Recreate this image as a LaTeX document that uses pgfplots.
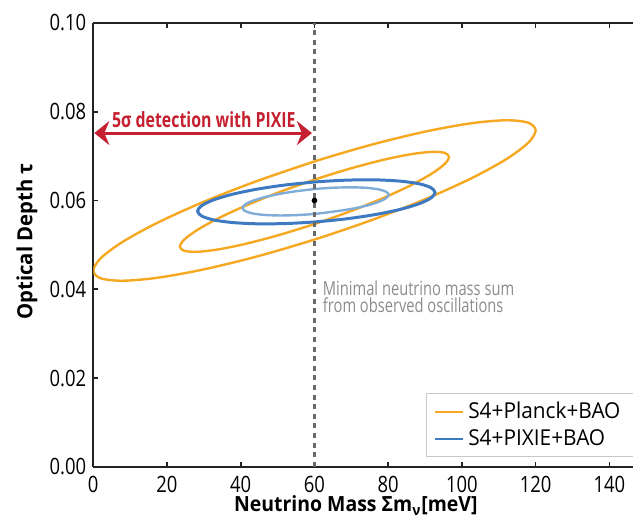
\documentclass[border=0pt]{standalone}
\usepackage{fontspec}
\setmainfont{Open Sans}[FakeStretch=0.76]
\newfontfamily\tickfont{Open Sans}[FakeStretch=0.82]
\newfontfamily\xlabfont{Open Sans}[FakeStretch=0.93]
\newfontfamily\ylabfont{Open Sans}[FakeStretch=0.97]
\newfontfamily\legfont{Open Sans}[FakeStretch=0.95]
\usepackage{pgfplots}
\pgfplotsset{compat=1.18}
\usetikzlibrary{calc,arrows.meta}

\definecolor{cOrange}{RGB}{246,168,33}
\definecolor{cBlue}{RGB}{62,122,194}
\definecolor{cLightBlue}{RGB}{128,172,216}
\definecolor{cRed}{RGB}{196,32,48}
\definecolor{cDash}{RGB}{105,105,105}
\definecolor{cNote}{RGB}{140,140,140}
\definecolor{axisgray}{RGB}{35,35,35}
\definecolor{legendgray}{RGB}{200,200,200}

\begin{document}
\begin{tikzpicture}
\begin{axis}[
  name=ax,
  scale only axis, width=270bp, height=222bp,
  xmin=0, xmax=146.4, ymin=0, ymax=0.10,
  axis x line*=box, axis y line*=left,
  axis line style={line width=1.2bp, color=axisgray},
  xtick={0,20,40,60,80,100,120,140},
  ytick={0,0.02,0.04,0.06,0.08,0.10},
  scaled y ticks=false,
  yticklabel style={/pgf/number format/fixed, /pgf/number format/fixed zerofill, /pgf/number format/precision=2},
  /pgf/number format/assume math mode=true,
  tick label style={font=\tickfont\fontsize{11.3}{11.3}\selectfont, color=black},
  xticklabel style={inner sep=1bp, yshift=-3.4bp},
  tick align=inside, major tick length=2.5bp,
  tick style={line width=0.8bp, color=axisgray},
  xlabel={\textbf{Neutrino Mass Σm\textsubscript{ν}[meV]}},
  xlabel style={at={(axis description cs:0.4865,-0.1014)}, anchor=base, inner sep=0pt, font=\xlabfont\fontsize{10.5}{10.5}\selectfont},
  ylabel={\textbf{Optical Depth τ}},
  ylabel style={at={(axis description cs:-0.1228,0.508)}, anchor=center, font=\ylabfont\fontsize{10.5}{10.5}\selectfont},
  no markers,
  legend style={at={(0.616,0.0225)}, anchor=south west, draw=legendgray, line width=0.6bp,
    font=\legfont\fontsize{11}{12}\selectfont, inner xsep=4bp, inner ysep=2bp, cells={anchor=west}},
  legend image code/.code={\draw[#1, line width=1bp] (0bp,0bp) -- (14bp,0bp);},
]

% S4+Planck+BAO, outer contour
\addplot[cOrange, line width=1.2bp, smooth] coordinates {
 (60,0.0688) (44.47,0.06441) (30,0.05972) (17.57,0.05505) (8.04,0.05072) (2.05,0.04702)
 (0,0.0442) (2.05,0.04246) (8.04,0.04192) (17.57,0.04261) (30,0.04448) (44.47,0.04741)
 (60,0.0512) (75.53,0.05559) (90,0.06028) (102.43,0.06495) (111.96,0.06928) (117.95,0.07298)
 (120,0.0758) (117.95,0.07754) (111.96,0.07808) (102.43,0.07739) (90,0.07552) (75.53,0.07259)
 (60,0.0688) (44.47,0.06441)};
\addlegendentry{S4+Planck+BAO\hspace*{40bp}}

% S4+Planck+BAO, inner contour
\addplot[cOrange, line width=1.2bp, smooth, forget plot] coordinates {
 (60,0.0647) (50.55,0.06192) (41.75,0.05898) (34.19,0.0561) (28.39,0.05345) (24.74,0.05123)
 (23.5,0.0496) (24.74,0.04865) (28.39,0.04845) (34.19,0.04902) (41.75,0.05032) (50.55,0.05226)
 (60,0.0547) (69.45,0.05748) (78.25,0.06042) (85.81,0.0633) (91.61,0.06595) (95.26,0.06817)
 (96.5,0.0698) (95.26,0.07075) (91.61,0.07095) (85.81,0.07038) (78.25,0.06908) (69.45,0.06714)
 (60,0.0647) (50.55,0.06192)};

% S4+PIXIE+BAO, outer contour
\addplot[cBlue, line width=1.5bp, smooth] coordinates {
 (60.5,0.0642) (52.17,0.06351) (44.4,0.06255) (37.73,0.0614) (32.61,0.06013) (29.4,0.05883)
 (28.3,0.0576) (29.4,0.05651) (32.61,0.05563) (37.73,0.05504) (44.4,0.05475) (52.17,0.05481)
 (60.5,0.0552) (68.83,0.05589) (76.6,0.05685) (83.27,0.058) (88.39,0.05927) (91.6,0.06057)
 (92.7,0.0618) (91.6,0.06289) (88.39,0.06377) (83.27,0.06436) (76.6,0.06465) (68.83,0.06459)
 (60.5,0.0642) (52.17,0.06351)};
\addlegendentry{S4+PIXIE+BAO}

% S4+PIXIE+BAO, inner contour
\addplot[cLightBlue, line width=1.2bp, smooth, forget plot] coordinates {
 (60.3,0.0626) (55.18,0.06211) (50.4,0.06147) (46.3,0.06072) (43.15,0.0599) (41.17,0.05907)
 (40.5,0.0583) (41.17,0.05763) (43.15,0.0571) (46.3,0.05676) (50.4,0.05663) (55.18,0.05671)
 (60.3,0.057) (65.42,0.05753) (70.2,0.05813) (74.3,0.05888) (77.45,0.0597) (79.43,0.06053)
 (80.1,0.0613) (79.43,0.06197) (77.45,0.0625) (74.3,0.06284) (70.2,0.06297) (65.42,0.06289)
 (60.3,0.0626) (55.18,0.06211)};

% minimal mass sum from oscillations
\addplot[cDash, line width=1.2bp, dash pattern=on 2.5bp off 2.3bp, forget plot] coordinates {(60,0) (60,0.1)};

% fiducial point
\addplot[only marks, mark=*, mark size=1.2bp, black, forget plot] coordinates {(60,0.0600)};

% detection range
\addplot[cRed, line width=1.5bp, {Stealth[length=7.5bp,width=12bp,inset=2.5bp]}-{Stealth[length=7.5bp,width=12bp,inset=2.5bp]}, forget plot]
  coordinates {(0.3,0.0752) (59.3,0.0752)};
\node[cRed, font=\bfseries\fontsize{10.5}{12}\selectfont] at (axis cs:30,0.0783) {5σ detection with PIXIE};

\node[cNote, anchor=north west, inner sep=0pt, align=left, font=\fontsize{9.7}{8.8}\selectfont]
  at (axis cs:62.2,0.0420) {Minimal neutrino mass sum\\from observed oscillations};
\end{axis}
\pgfresetboundingbox
\path[use as bounding box] ($(ax.south west)+(-46.65bp,-26.5bp)$) rectangle ($(ax.north east)+(0bp,11.5bp)$);
\end{tikzpicture}
\end{document}
